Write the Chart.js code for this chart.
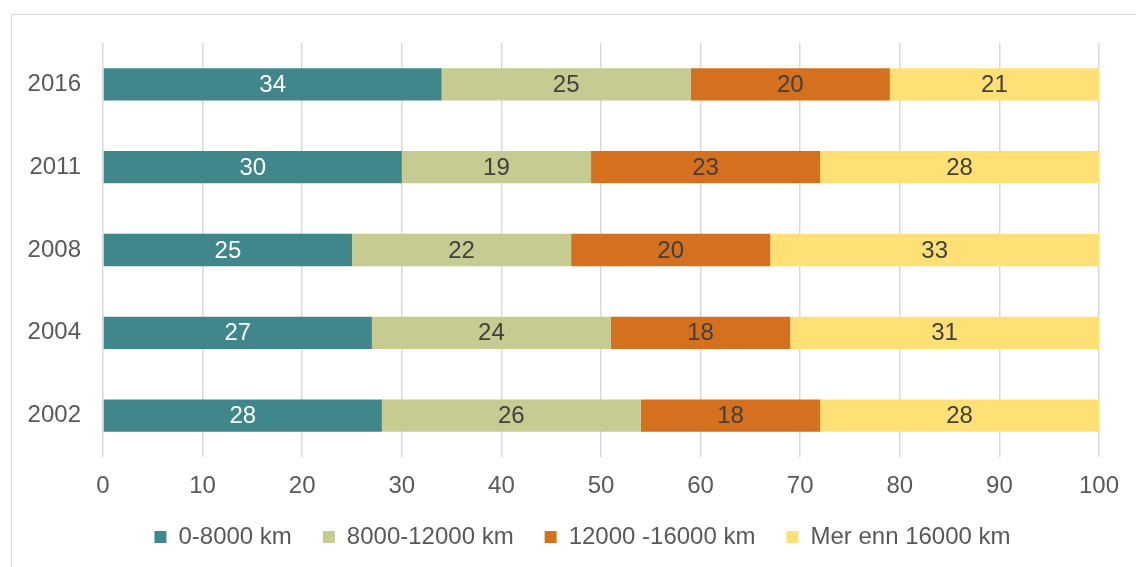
<!DOCTYPE html>
<html>
<head>
<meta charset="utf-8">
<script src="https://cdn.jsdelivr.net/npm/chart.js@4/dist/chart.umd.min.js"></script>
<style>
  html, body { margin: 0; padding: 0; background: #fff; }
  #wrap { position: relative; width: 1136px; height: 567px; overflow: hidden; }
  #frame { position: absolute; left: 11px; top: 14px; width: 1200px; height: 600px;
           border-left: 1px solid #d9d9d9; border-top: 1px solid #d9d9d9; }
  #myChart { position: absolute; left: 0; top: 0; }
</style>
</head>
<body>
<div id="wrap">
  <div id="frame"></div>
  <canvas id="myChart" width="1136" height="567"></canvas>
</div>
<script>
// data
const aar = ['2016', '2011', '2008', '2004', '2002'];
const kort = [34, 30, 25, 27, 28];        // 0-8000 km
const middels = [25, 19, 22, 24, 26];     // 8000-12000 km
const lang = [20, 23, 20, 18, 18];        // 12000 -16000 km
const svaertLang = [21, 28, 33, 31, 28];  // Mer enn 16000 km
const xTicks = [0, 10, 20, 30, 40, 50, 60, 70, 80, 90, 100];

const fontFam = '"Liberation Sans", Arial, sans-serif';
const venstre = 66; // legenden sentreres litt til hoyre

// egen plugin for verdiene midt i stolpene
const verdiPlugin = {
  id: 'verdier',
  afterLayout(chart) {
    // utvid klippeomradet for aksetekstene
    chart.scales.y.left = 0;
    chart.scales.x.bottom += 30;
  },
  afterDatasetsDraw(chart) {
    const ctx = chart.ctx;
    ctx.save();
    ctx.font = '24px ' + fontFam;
    ctx.textAlign = 'center';
    ctx.textBaseline = 'middle';
    chart.data.datasets.forEach((ds, i) => {
      const meta = chart.getDatasetMeta(i);
      meta.data.forEach((bar, j) => {
        const p = bar.getProps(['x', 'y', 'base'], true);
        ctx.fillStyle = ds.labelColor;
        ctx.fillText(String(ds.data[j]), (p.x + p.base) / 2, p.y + 1);
      });
    });
    ctx.restore();
  }
};

const ctx = document.getElementById('myChart');
const myChart = new Chart(ctx, {
  type: 'bar',
  data: {
    labels: aar,
    datasets: [
      { label: '0-8000 km', data: kort, backgroundColor: '#40878B', labelColor: '#ffffff' },
      { label: '8000-12000 km', data: middels, backgroundColor: '#C6CC91', labelColor: '#404040' },
      { label: '12000 -16000 km', data: lang, backgroundColor: '#D5711E', labelColor: '#404040' },
      { label: 'Mer enn 16000 km', data: svaertLang, backgroundColor: '#FFE074', labelColor: '#404040' },
    ],
  },
  options: {
    indexAxis: 'y',
    responsive: false,
    animation: false,
    barPercentage: 0.39,
    categoryPercentage: 1,
    layout: { padding: { left: venstre, right: 37, top: 43, bottom: 8 } },
    scales: {
      x: {
        stacked: true,
        min: 0,
        max: 100,
        afterBuildTicks: (axis) => { axis.ticks = xTicks.map(v => ({ value: v })); },
        afterFit: (axis) => { axis.height = 37; },
        grid: { color: '#d9d9d9', lineWidth: 1.5, drawTicks: false },
        border: { display: false },
        ticks: { color: '#595959', font: { family: fontFam, size: 24 }, padding: 15 },
      },
      y: {
        stacked: true,
        afterFit: (axis) => { axis.width = 103 - venstre; },
        grid: { display: false, drawTicks: false },
        border: { display: false },
        ticks: { color: '#595959', font: { family: fontFam, size: 24 }, padding: 22 },
      },
    },
    plugins: {
      legend: {
        position: 'bottom',
        labels: {
          color: '#595959',
          font: { family: fontFam, size: 24 },
          boxWidth: 12,
          boxHeight: 12,
          padding: 31,
        },
      },
      tooltip: { enabled: false },
    },
  },
  plugins: [verdiPlugin],
});
</script>
</body>
</html>
